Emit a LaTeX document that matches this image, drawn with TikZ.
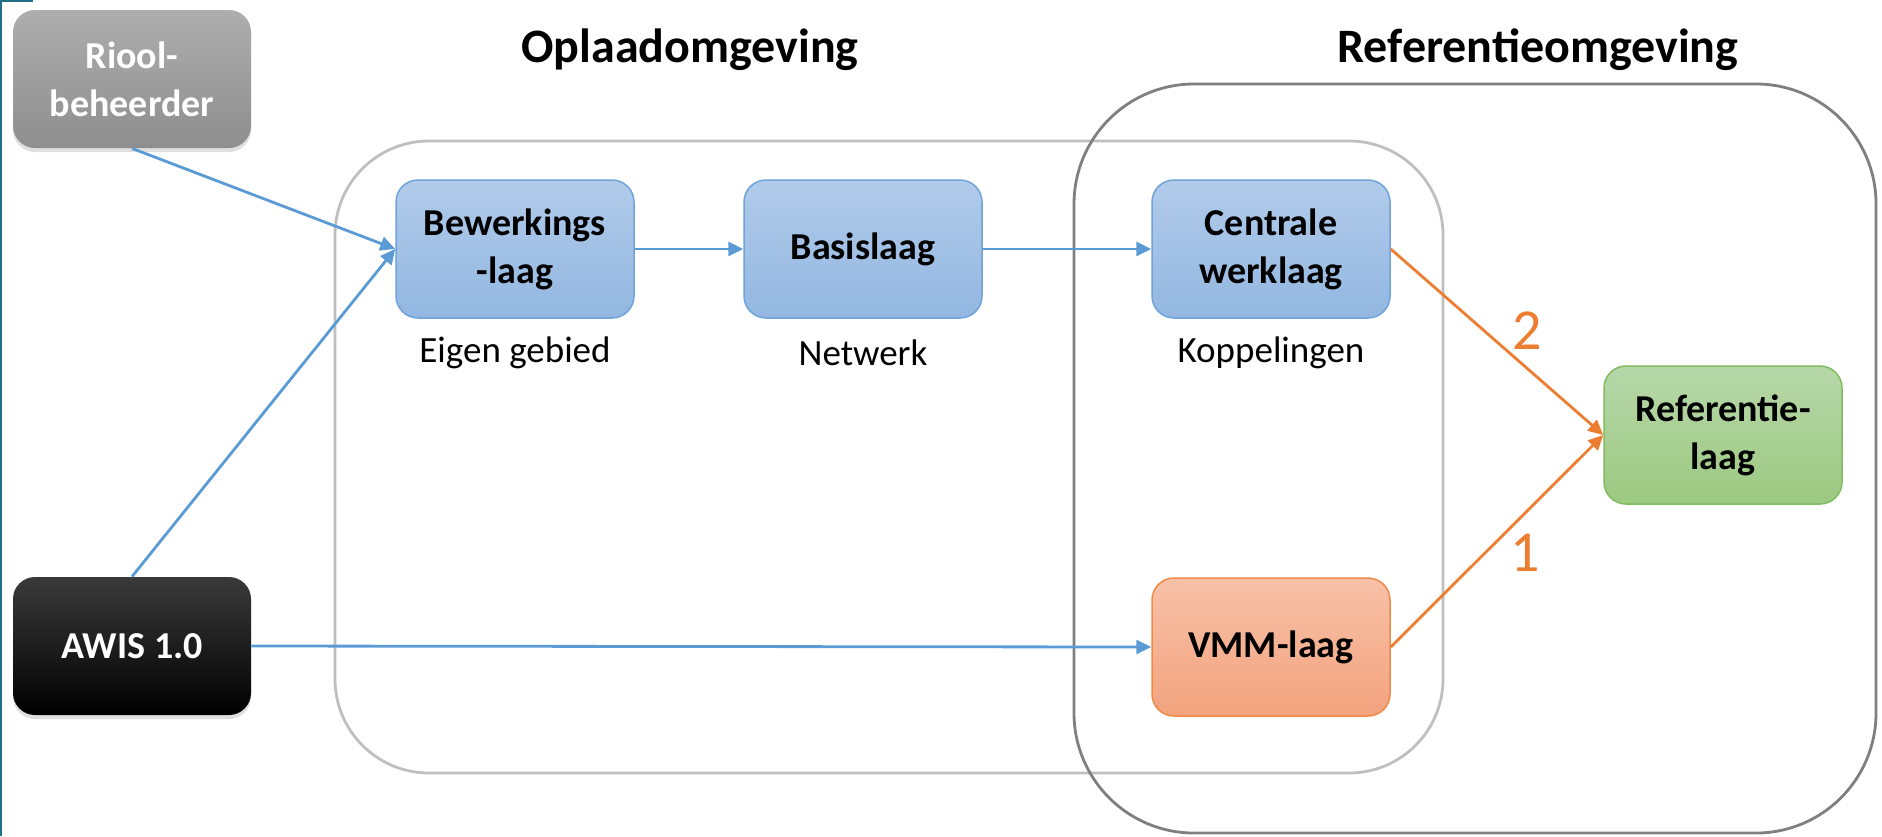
\documentclass[tikz,border=0pt]{standalone}
\usepackage{fontspec}
\setmainfont{Carlito}
\usetikzlibrary{arrows.meta,shadows}
\definecolor{bluetop}{HTML}{B1CBEA}
\definecolor{bluebot}{HTML}{93B7E1}
\definecolor{bluebd}{HTML}{6FA3DA}
\definecolor{greentop}{HTML}{B7D7A9}
\definecolor{greenbot}{HTML}{9CC981}
\definecolor{greenbd}{HTML}{80BC60}
\definecolor{orgtop}{HTML}{F7C1A8}
\definecolor{orgbot}{HTML}{F3A37E}
\definecolor{orgbd}{HTML}{EF8A46}
\definecolor{graytop}{HTML}{AEAEAE}
\definecolor{graybot}{HTML}{8E8E8E}
\definecolor{blkTop}{HTML}{3A3A3A}
\definecolor{lineblue}{HTML}{5B9BD5}
\definecolor{lineorange}{HTML}{ED7D31}
\definecolor{envlight}{HTML}{BFBFBF}
\definecolor{envdark}{HTML}{7F7F7F}
\definecolor{edgeteal}{HTML}{1F6F8B}
\begin{document}
\begin{tikzpicture}[x=0.5pt,y=-0.5pt,
  box/.style={rounded corners=11pt, minimum width=119pt, minimum height=69pt,
    align=center, inner sep=0pt, font=\fontsize{19}{24}\selectfont\bfseries},
  bluebox/.style={box, draw=bluebd, line width=0.75pt, top color=bluetop, bottom color=bluebot},
  greenbox/.style={box, draw=greenbd, line width=0.75pt, top color=greentop, bottom color=greenbot},
  orgbox/.style={box, draw=orgbd, line width=0.75pt, top color=orgtop, bottom color=orgbot},
  graybox/.style={box, top color=graytop, bottom color=graybot, text=white,
    drop shadow={opacity=0.25, shadow xshift=0pt, shadow yshift=-2pt}},
  blkbox/.style={box, top color=blkTop, bottom color=black, text=white,
    drop shadow={opacity=0.25, shadow xshift=0pt, shadow yshift=-2pt}},
  sublabel/.style={font=\fontsize{18.5}{22}\selectfont},
  title/.style={font=\fontsize{24}{28}\selectfont\bfseries},
  numlabel/.style={font=\fontsize{29}{34}\selectfont, text=lineorange},
  bluearrow/.style={draw=lineblue, line width=1.4pt, -{Triangle[length=7.5pt,width=7pt]}},
  orgarrow/.style={draw=lineorange, line width=1.4pt, -{Triangle[length=7.5pt,width=7pt]}},
  env/.style={line width=1.4pt}
]
\useasboundingbox (0,0) rectangle (1882,836);
% edge artifact
\draw[edgeteal, line width=1pt] (1,0) -- (1,836);
\draw[edgeteal, line width=1pt] (0,1) -- (33,1);

% environments
\draw[env, draw=envlight, rounded corners=47pt] (335,141) rectangle (1443,773);
\draw[env, draw=envdark, rounded corners=60pt] (1074,84) rectangle (1876,833);

% titles
\node[title] (t1) at (690,50) {Oplaadomgeving};
\node[title] (t2) at (1538,50) {Referentieomgeving};

% nodes
\node[graybox] (riool) at (132,79) {Riool-\\beheerder};
\node[blkbox] (awis) at (132,646) {AWIS 1.0};
\node[bluebox] (bew) at (515,249) {Bewerkings\\-laag};
\node[bluebox] (bas) at (863,249) {Basislaag};
\node[bluebox] (cen) at (1271,249) {Centrale\\werklaag};
\node[orgbox] (vmm) at (1271,647) {VMM-laag};
\node[greenbox] (ref) at (1723,435) {Referentie-\\laag};

% sublabels
\node[sublabel] (l1) at (515,353) {Eigen gebied};
\node[sublabel] (l2) at (863,353) {Netwerk};
\node[sublabel] (l3) at (1271,353) {Koppelingen};

% connectors
\draw[bluearrow] (riool.south) -- (bew.west);
\draw[bluearrow] (awis.north) -- (bew.west);
\draw[bluearrow] (awis.east) -- (vmm.west);
\draw[bluearrow] (bew.east) -- (bas.west);
\draw[bluearrow] (bas.east) -- (cen.west);
\draw[orgarrow] (cen.east) -- (ref.west);
\draw[orgarrow] (vmm.east) -- (ref.west);

% numbers
\node[numlabel] (n2) at (1527,331) {2};
\node[numlabel] (n1) at (1525,553) {1};
\end{tikzpicture}
\end{document}
